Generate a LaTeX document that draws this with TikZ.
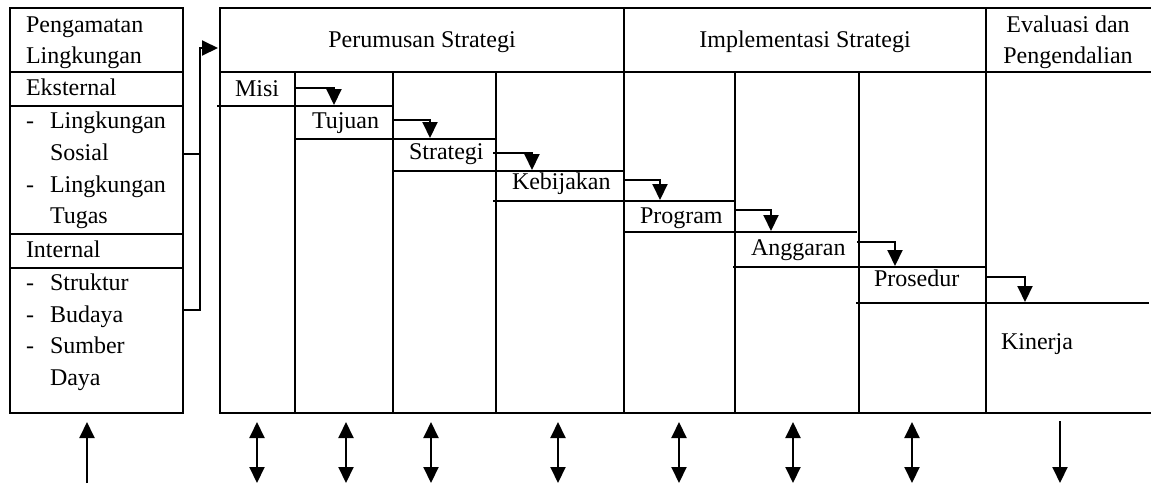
\documentclass[tikz,border=0pt]{standalone}
\usepackage{fontspec}
\setmainfont{Liberation Serif}
\usetikzlibrary{arrows.meta}

\begin{document}
\begin{tikzpicture}[x=0.5pt, y=-0.5pt, line width=1pt,
    >={Triangle[length=8pt, width=7.5pt]},
    txt/.style={anchor=base west, inner sep=0pt, font=\fontsize{12}{15}\selectfont},
    hdr/.style={anchor=base, inner sep=0pt, font=\fontsize{12}{15}\selectfont},
    rowline/.style={line width=0.9pt}]

    \useasboundingbox (0,0) rectangle (1151,483);

    % Environmental Scanning box
    \draw (10,8) rectangle (183,413);
    \draw (10,72) -- (183,72);
    \draw (10,106) -- (183,106);
    \draw (10,234) -- (183,234);
    \draw (10,268) -- (183,268);

    \node[txt] (pengamatan) at (25,32) {Pengamatan};
    \node[txt] (lingkungan) at (25,63) {Lingkungan};
    \node[txt] (eksternal) at (25,95) {Eksternal};
    \node[txt] (dashA) at (25,128) {-};
    \node[txt] (sosial) at (49,128) {Lingkungan};
    \node[txt] (sosialB) at (49,160) {Sosial};
    \node[txt] (dashB) at (25,192) {-};
    \node[txt] (tugas) at (49,192) {Lingkungan};
    \node[txt] (tugasB) at (49,223) {Tugas};
    \node[txt] (internal) at (25,257) {Internal};
    \node[txt] (dashC) at (25,290) {-};
    \node[txt] (struktur) at (49,290) {Struktur};
    \node[txt] (dashD) at (25,322) {-};
    \node[txt] (budaya) at (49,322) {Budaya};
    \node[txt] (dashE) at (25,353) {-};
    \node[txt] (sumber) at (49,353) {Sumber};
    \node[txt] (daya) at (49,385) {Daya};

    % Feed into strategy formulation
    \draw (183,154) -- (200,154);
    \draw[->] (183,310) -| (200,48) -- (218,48);

    % Main table frame
    \draw (1151,8) -- (220,8) -- (220,413) -- (1151,413);
    \draw (220,72) -- (1151,72);
    \draw (624,8) -- (624,413);
    \draw (985.5,8) -- (985.5,413);
    \draw (295,72) -- (295,413);
    \draw (393,72) -- (393,413);
    \draw (496,72) -- (496,413);
    \draw (735,72) -- (735,413);
    \draw (859,72) -- (859,413);

    % Headers
    \node[hdr] (perumusan) at (422,47) {Perumusan Strategi};
    \node[hdr] (implementasi) at (805,47) {Implementasi Strategi};
    \node[hdr] (evaluasi) at (1068,32) {Evaluasi dan};
    \node[hdr] (pengendalian) at (1068,63) {Pengendalian};

    % Staircase rows
    \node[txt] (misi) at (234,96) {Misi};
    \node[txt] (tujuan) at (311,128) {Tujuan};
    \node[txt] (strategi) at (408,159) {Strategi};
    \node[txt] (kebijakan) at (511,189) {Kebijakan};
    \node[txt] (program) at (639,223) {Program};
    \node[txt] (anggaran) at (750,255) {Anggaran};
    \node[txt] (prosedur) at (873,286) {Prosedur};
    \node[txt] (kinerja) at (1000,349) {Kinerja};

    \draw[rowline] (217,106) -- (393,106);
    \draw[rowline] (295,139) -- (496,139);
    \draw[rowline] (393,171) -- (624,171);
    \draw[rowline] (493,201) -- (735,201);
    \draw[rowline] (623,232) -- (857,232);
    \draw[rowline] (733,267) -- (986,267);
    \draw[rowline] (856,303) -- (1149,303);

    % Step arrows
    \draw[->] (296,88) -| (334,105);
    \draw[->] (393,120) -| (430,138);
    \draw[->] (493,153) -| (532,170);
    \draw[->] (623,180) -| (660,200);
    \draw[->] (734,210) -| (771,231);
    \draw[->] (857,242) -| (895,266);
    \draw[->] (986,277) -| (1025,302);

    % Arrows below the table
    \draw[->] (87,483) -- (87,422);
    \draw[<->] (257,422) -- (257,483);
    \draw[<->] (346,422) -- (346,483);
    \draw[<->] (431,422) -- (431,483);
    \draw[<->] (558,422) -- (558,483);
    \draw[<->] (679,422) -- (679,483);
    \draw[<->] (793,422) -- (793,483);
    \draw[<->] (912,422) -- (912,483);
    \draw[->] (1060,421) -- (1060,483);

\end{tikzpicture}
\end{document}
